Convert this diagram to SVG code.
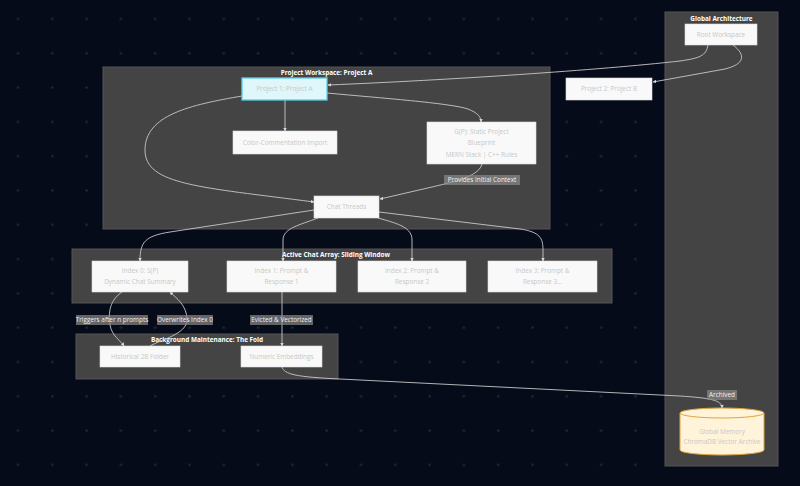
<svg xmlns="http://www.w3.org/2000/svg" width="800" height="486" viewBox="0 0 800 486">
<defs>
<pattern id="dots" patternUnits="userSpaceOnUse" x="0.85" y="1.85" width="34.3" height="34.3">
<circle cx="17.15" cy="17.15" r="1.3" fill="#1f2638"/>
</pattern>
<marker id="ah" viewBox="0 0 10 10" refX="9" refY="5" markerWidth="4" markerHeight="4" orient="auto">
<path d="M0,0 L10,5 L0,10 z" fill="#d8d8d8"/>
</marker>
</defs>
<style>
.cl{fill:#444444;stroke:#555555;stroke-width:1}
.ct{font-family:"Open Sans","Noto Sans",sans-serif;font-size:6.4px;font-weight:bold;fill:#ffffff;text-anchor:middle}
.nd{fill:#f9f9f9;stroke:#dddddd;stroke-width:0.6}
.nt{font-family:"Open Sans","Noto Sans",sans-serif;font-size:6.4px;fill:#c8c8c8;text-anchor:middle}
.ed{fill:none;stroke:#c8c8c8;stroke-width:0.9;marker-end:url(#ah)}
.lb{fill:#8a8a8a;fill-opacity:0.7}
.lt{font-family:"Open Sans","Noto Sans",sans-serif;font-size:6.4px;fill:#f0f0f0;text-anchor:middle}
</style>
<rect width="800" height="486" fill="#060b19"/>
<rect width="800" height="486" fill="url(#dots)"/>

<g id="clusters">
<g id="cluster-global"><rect class="cl" x="665" y="12" width="113" height="454"/><text class="ct" x="721.5" y="21">Global Architecture</text></g>
<g id="cluster-projectA"><rect class="cl" x="103" y="67" width="447" height="162"/><text class="ct" x="326.5" y="75">Project Workspace: Project A</text></g>
<g id="cluster-array"><rect class="cl" x="72" y="249" width="540" height="54"/><text class="ct" x="336" y="257">Active Chat Array: Sliding Window</text></g>
<g id="cluster-fold"><rect class="cl" x="76" y="334" width="262" height="45"/><text class="ct" x="207" y="342">Background Maintenance: The Fold</text></g>
</g>

<g id="connectors">
<path class="ed" d="M708,45 C706,56 700,58 680,61 C600,70 450,80 328,85"/>
<path class="ed" d="M733,45 C746,55 745,64 725,69 L653,82"/>
<path class="ed" d="M285,100 L285,131"/>
<path class="ed" d="M327,93 C380,98 450,103 468,109 C478,113 481,117 481,122"/>
<path class="ed" d="M242,96 C190,105 145,115 145,150 C145,185 200,187 314,202"/>
<path class="ed" d="M482,164 C479,175 462,180 432,187 L380,199"/>
<path class="ed" d="M314,210 L170,232 C145,236 140,242 140,261"/>
<path class="ed" d="M318,218 C300,225 283,228 283,240 L283,261"/>
<path class="ed" d="M378,218 C400,224 412,228 412,240 L412,261"/>
<path class="ed" d="M379,212 L520,229 C540,232 543,238 543,250 L543,261"/>
<path class="ed" d="M122,292 C110,300 108,312 110,325 C112,336 120,340 124,346"/>
<path class="ed" d="M150,346 C160,340 187,334 187,320 C187,305 176,298 170,292"/>
<path class="ed" d="M282,292 L282,346"/>
<path class="ed" d="M282,367 C284,374 295,377 340,379 L680,396 C710,398 722,400 722,408"/>
</g>

<g id="edge-labels">
<rect class="lb" x="444" y="175" width="76" height="10"/><text class="lt" x="482" y="182.3">Provides Initial Context</text>
<rect class="lb" x="76" y="315" width="72" height="10"/><text class="lt" x="112" y="322.3">Triggers after n prompts</text>
<rect class="lb" x="157" y="315" width="56" height="10"/><text class="lt" x="185" y="322.3">Overwrites Index 0</text>
<rect class="lb" x="250" y="315" width="63" height="10"/><text class="lt" x="281.5" y="322.3">Evicted &amp; Vectorized</text>
<rect class="lb" x="707" y="390" width="30" height="10"/><text class="lt" x="722" y="397.3">Archived</text>
</g>

<g id="root"><rect class="nd" x="685" y="24" width="72" height="21"/><text class="nt" x="721" y="36.8">Root Workspace</text></g>
<g id="projB"><rect class="nd" x="566" y="78" width="86" height="22"/><text class="nt" x="609" y="91.3">Project 2: Project B</text></g>
<g id="projA"><rect x="242" y="78" width="85" height="22" fill="#dff6fb" stroke="#5ad2e6" stroke-width="1.3"/><text class="nt" x="284.5" y="91.3">Project 1: Project A</text></g>
<g id="color"><rect class="nd" x="233" y="131" width="104" height="23"/><text class="nt" x="285" y="144.8">Color-Commentation Import</text></g>
<g id="gp"><rect class="nd" x="427" y="122" width="109" height="42"/><text class="nt" x="481.5" y="133.5">G(P): Static Project</text><text class="nt" x="481.5" y="145">Blueprint</text><text class="nt" x="481.5" y="156.5">MERN Stack | C++ Rules</text></g>
<g id="threads"><rect class="nd" x="314" y="196" width="65" height="22"/><text class="nt" x="346.5" y="209.3">Chat Threads</text></g>
<g id="idx0"><rect class="nd" x="92" y="261" width="96" height="31"/><text class="nt" x="140" y="273.3">Index 0: S(P)</text><text class="nt" x="140" y="284.3">Dynamic Chat Summary</text></g>
<g id="idx1"><rect class="nd" x="227" y="261" width="109" height="31"/><text class="nt" x="281.5" y="273.3">Index 1: Prompt &amp;</text><text class="nt" x="281.5" y="284.3">Response 1</text></g>
<g id="idx2"><rect class="nd" x="358" y="261" width="108" height="31"/><text class="nt" x="412" y="273.3">Index 2: Prompt &amp;</text><text class="nt" x="412" y="284.3">Response 2</text></g>
<g id="idx3"><rect class="nd" x="488" y="261" width="109" height="31"/><text class="nt" x="542.5" y="273.3">Index 3: Prompt &amp;</text><text class="nt" x="542.5" y="284.3">Response 3...</text></g>
<g id="hist"><rect class="nd" x="100" y="346" width="80" height="21"/><text class="nt" x="140" y="358.8">Historical 2B Folder</text></g>
<g id="numeric"><rect class="nd" x="241" y="346" width="81" height="21"/><text class="nt" x="281.5" y="358.8">Numeric Embeddings</text></g>
<g id="memory">
<path d="M680,413 L680,450 A42,5 0 0 0 764,450 L764,413" fill="#fff3da" stroke="#e0a43c" stroke-width="1"/>
<ellipse cx="722" cy="413" rx="42" ry="5" fill="#fff3da" stroke="#e0a43c" stroke-width="1"/>
<text class="nt" x="722" y="433.5">Global Memory</text><text class="nt" x="722" y="443.5">ChromaDB Vector Archive</text>
</g>
</svg>
